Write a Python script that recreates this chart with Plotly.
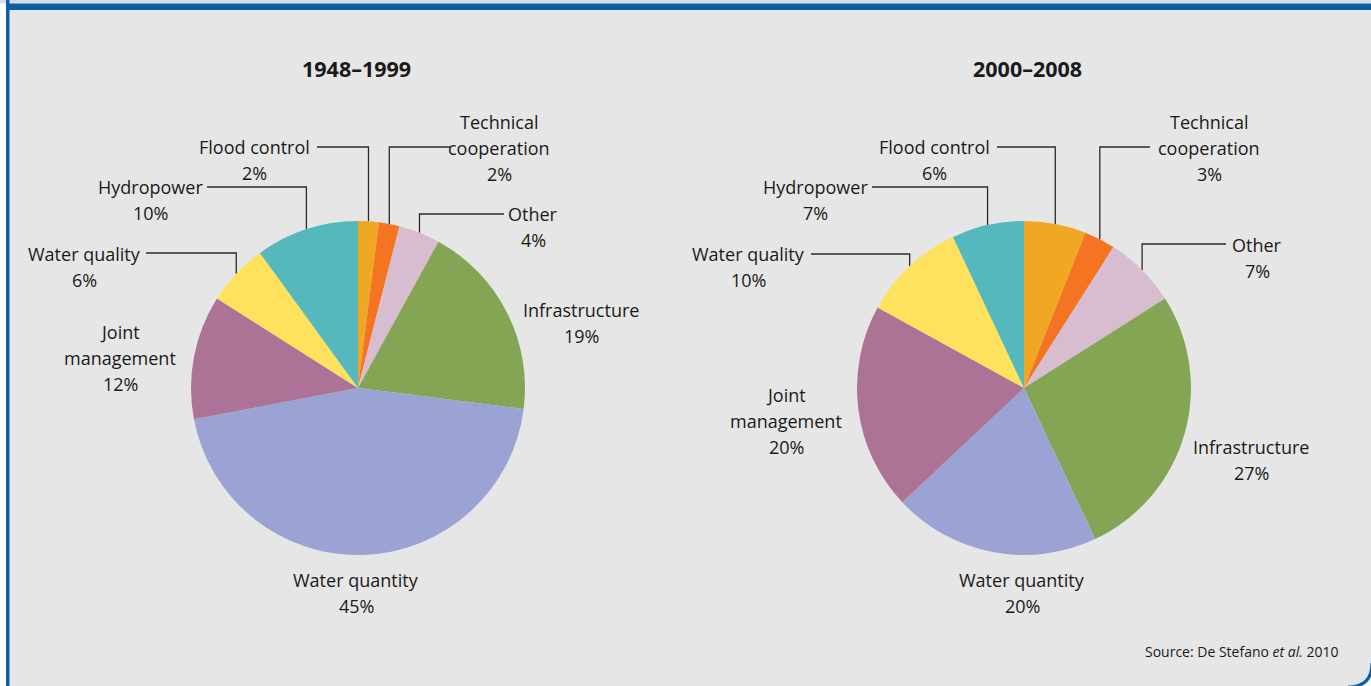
import numpy as np
import plotly.graph_objects as go

W, H = 1371, 686

# ---- data -------------------------------------------------------------
categories = ["Flood control", "Technical<br>cooperation", "Other", "Infrastructure",
              "Water quantity", "Joint<br>management", "Water quality", "Hydropower"]
values_1948_1999 = [2, 2, 4, 19, 45, 12, 6, 10]
values_2000_2008 = [6, 3, 7, 27, 20, 20, 10, 7]
periods = ["1948–1999", "2000–2008"]
colors = ["#F0A823", "#F47421", "#D8BDD0", "#84A654",
          "#9BA3D4", "#AC7397", "#FEE15C", "#55B8BD"]

# ---- layout (pixel positions) ----------------------------------------
FONT = "Open Sans"
TEXT_COLOR = "#1a1a1a"
LINE_COLOR = "#2b2b2b"
LINE_GAP = 26  # spacing between label text lines

# pie centre and radius
pies = [
    dict(values=values_1948_1999, title=periods[0], cx=358, cy=388, r=167, title_x=356),
    dict(values=values_2000_2008, title=periods[1], cx=1024, cy=388, r=167, title_x=1027),
]
# per-slice label placement: (text centre x, text centre y, elbow y or None, line end x)
label_layout = [
    [(254, 160, 147, 317), (499, 148, 147, 450), (533, 227, 214, 504), (581, 323, None, None),
     (356, 593, None, None), (120, 358, None, None), (84, 267, 253, 146), (150, 200, 187, 207)],
    [(934, 160, 147, 997), (1209, 148, 147, 1150), (1257, 258, 244, 1226), (1251, 460, None, None),
     (1022, 593, None, None), (786, 421, None, None), (748, 267, 254, 811), (815, 200, 187, 872)],
]

fig = go.Figure()

shapes = []
# panel background with rounded bottom-right corner
rc = 22
shapes.append(dict(
    type="path", xref="x", yref="y", layer="below",
    path=(f"M 9 10 L {W + 2} 10 L {W + 2} {H - rc + 2} "
          f"Q {W + 2} {H + 2} {W - rc + 2} {H + 2} L 9 {H + 2} Z"),
    fillcolor="#E6E6E6", line=dict(width=0)))
shapes.append(dict(
    type="path", xref="x", yref="y", layer="below",
    path=f"M {W + 1} {H - rc - 1} Q {W + 1} {H + 1} {W - rc - 1} {H + 1}",
    line=dict(color="#0A5EA8", width=3)))
# blue frame lines (top band and left rule)
shapes.append(dict(type="rect", xref="x", yref="y", layer="below",
                   x0=0, x1=W, y0=0, y1=3.5, fillcolor="#D5DEE8", line=dict(width=0)))
shapes.append(dict(type="rect", xref="x", yref="y", layer="below",
                   x0=6, x1=W, y0=3.5, y1=10, fillcolor="#0A5EA8", line=dict(width=0)))
shapes.append(dict(type="rect", xref="x", yref="y", layer="below",
                   x0=6, x1=9.5, y0=0, y1=H, fillcolor="#0A5EA8", line=dict(width=0)))

annotations = []

for p, labels in zip(pies, label_layout):
    cx, cy, r = p["cx"], p["cy"], p["r"]
    vals = np.array(p["values"], dtype=float)
    fig.add_trace(go.Pie(
        labels=[c.replace("<br>", " ") for c in categories],
        values=vals,
        sort=False, direction="clockwise", rotation=0,
        marker=dict(colors=colors, line=dict(width=0)),
        textinfo="none", hoverinfo="label+percent", showlegend=False,
        domain=dict(x=[(cx - r) / W, (cx + r) / W],
                    y=[1 - (cy + r) / H, 1 - (cy - r) / H]),
    ))

    annotations.append(dict(
        x=p["title_x"], y=68, xref="x", yref="y", text=f"<b>{p['title']}</b>",
        showarrow=False, xanchor="center", yanchor="middle",
        font=dict(family=FONT, size=21.5, color=TEXT_COLOR)))

    total = vals.sum()
    mids = (np.cumsum(vals) - vals / 2) / total * 2 * np.pi
    for cat, v, ang, (tx, ty, ey, lx) in zip(categories, vals, mids, labels):
        lines = cat.split("<br>") + [f"{int(v)}%"]
        n = len(lines)
        for i, line in enumerate(lines):
            annotations.append(dict(
                x=tx, y=ty + (i - (n - 1) / 2) * LINE_GAP, xref="x", yref="y",
                text=line, showarrow=False, xanchor="center", yanchor="middle",
                font=dict(family=FONT, size=18, color=TEXT_COLOR)))
        if ey is not None:
            ax = cx + r * np.sin(ang)
            ay = cy - r * np.cos(ang)
            fig.add_trace(go.Scatter(
                x=[lx, ax, ax], y=[ey, ey, ay], mode="lines",
                line=dict(color=LINE_COLOR, width=1.3),
                hoverinfo="skip", showlegend=False))

annotations.append(dict(
    x=1340, y=651, xref="x", yref="y",
    text="Source: De Stefano <i>et al.</i> 2010",
    showarrow=False, xanchor="right", yanchor="middle",
    font=dict(family=FONT, size=14, color=TEXT_COLOR)))

fig.update_layout(
    width=W, height=H,
    margin=dict(l=0, r=0, t=0, b=0),
    paper_bgcolor="white", plot_bgcolor="rgba(0,0,0,0)",
    xaxis=dict(range=[0, W], visible=False, fixedrange=True, domain=[0, 1]),
    yaxis=dict(range=[H, 0], visible=False, fixedrange=True, domain=[0, 1]),
    shapes=shapes, annotations=annotations,
)

fig.write_html("out.html", config=dict(displayModeBar=False))
